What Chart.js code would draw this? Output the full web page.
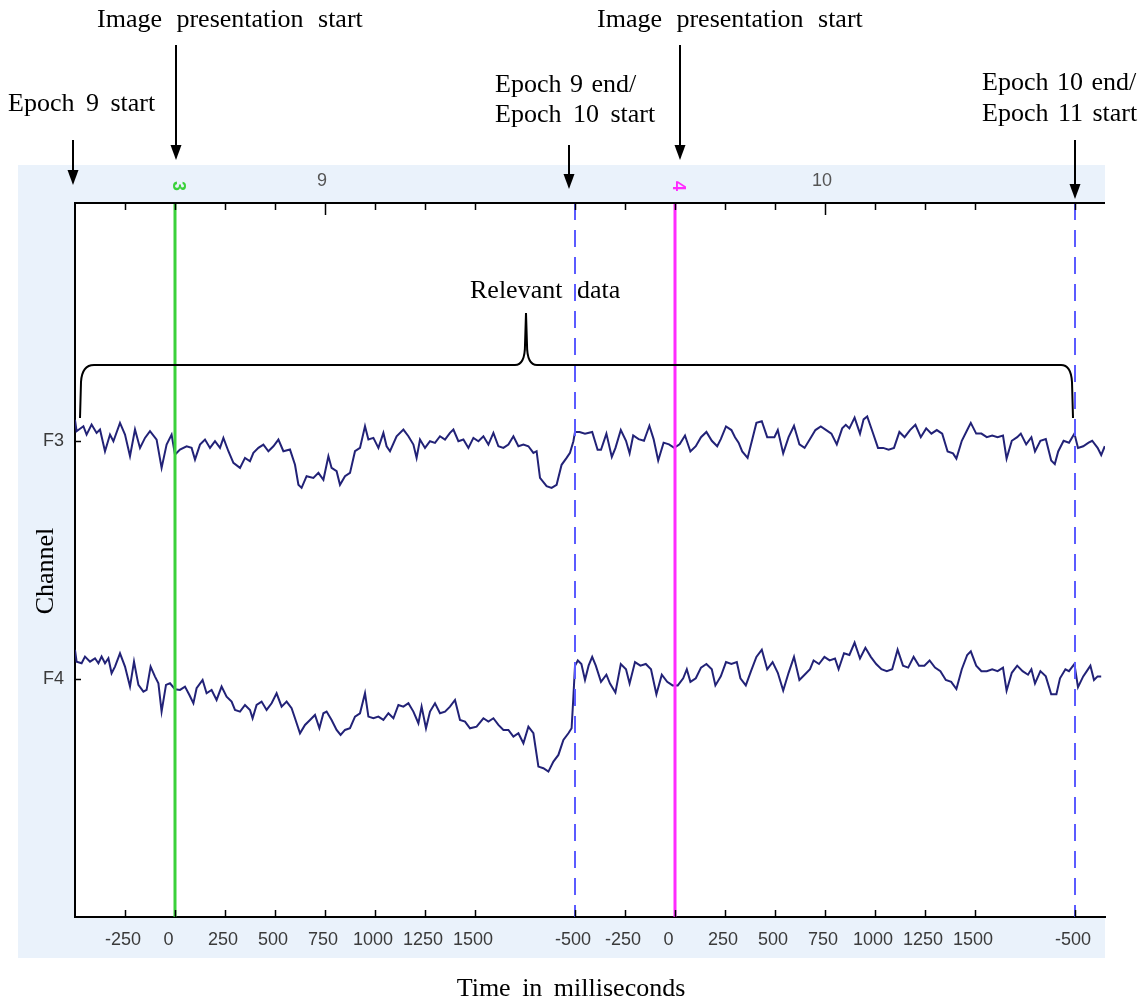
<!DOCTYPE html>
<html>
<head>
<meta charset="utf-8">
<script src="https://cdn.jsdelivr.net/npm/chart.js@4.4.1/dist/chart.umd.min.js"></script>
<style>
  html, body { margin: 0; padding: 0; background: #fff; }
  #wrap { width: 1148px; height: 1002px; }
</style>
</head>
<body>
<div id="wrap"><canvas id="eeg" width="1148" height="1002"></canvas></div>
<script>
// Samples are [time in ms from the start of epoch 9, amplitude in µV]; 100 µV = one channel row
const channels = ['F3', 'F4'];

const f3 = [
  [0, 8.9], [8, 4.1], [42, 6.2], [58, 2.7], [83, 6.9], [108, 3.4], [125, 4.8], [150, -4.3], [175, 2.7], [192, -0.1],
  [225, 7.6], [250, 2.7], [275, -6.4], [300, 4.8], [325, -2.9], [350, 1.3], [375, 4.1], [408, 0.6], [433, -11.3], [458, -1.5],
  [483, 2.7], [500, -5.7], [525, -3.6], [558, -2.2], [583, -2.9], [600, -7.8], [625, -1.5], [650, 0.6], [675, -2.9], [700, -0.1],
  [725, -2.9], [742, 1.3], [767, -4.3], [792, -9.2], [825, -11.3], [850, -7.1], [875, -8.5], [892, -5.0], [917, -2.9], [942, -1.5],
  [967, -4.3], [992, -2.2], [1017, 0.6], [1042, -4.3], [1075, -3.6], [1100, -10.0], [1117, -18.4], [1133, -19.7], [1158, -14.8], [1192, -15.5],
  [1217, -13.4], [1242, -16.3], [1267, -6.4], [1283, -11.3], [1308, -12.7], [1325, -18.4], [1350, -14.8], [1375, -13.4], [1400, -4.3], [1425, -2.9],
  [1450, 6.2], [1467, 0.6], [1492, 1.3], [1517, -2.9], [1542, 3.4], [1558, -2.2], [1575, -4.3], [1608, 2.0], [1642, 4.8], [1667, 2.0],
  [1692, -1.5], [1708, -7.1], [1725, 0.6], [1750, -2.9], [1775, -0.1], [1800, -0.8], [1825, 2.0], [1850, 0.6], [1875, 3.4], [1892, 4.8],
  [1917, -0.1], [1942, 0.6], [1967, -2.9], [1992, 1.3], [2017, -0.1], [2042, 2.0], [2067, -1.5], [2092, 3.4], [2117, -2.2], [2142, -2.9],
  [2167, -1.5], [2192, 2.0], [2217, -2.2], [2242, -1.5], [2267, -2.2], [2292, -5.0], [2308, -4.3], [2325, -15.5], [2358, -19.0], [2383, -19.7],
  [2408, -18.4], [2433, -10.0], [2458, -7.1], [2475, -5.0], [2492, -0.1],
  [2500, 3.8], [2523, 3.8], [2550, 3.1], [2586, 3.8], [2613, -3.7], [2630, -3.7], [2657, 3.1], [2684, -6.7], [2702, -3.0], [2729, 4.6],
  [2755, 0.1], [2773, -5.2], [2791, 2.3], [2818, 0.8], [2845, 0.1], [2872, 6.4], [2893, 0.8], [2916, -8.2], [2943, -0.7], [2970, -1.4],
  [2996, -2.9], [3023, -1.4], [3050, 2.3], [3077, -4.4], [3104, -2.2], [3130, 1.6], [3157, 3.8], [3184, 0.1], [3211, -2.2], [3229, 0.8],
  [3255, 6.1], [3282, 4.6], [3300, 1.6], [3318, -0.7], [3336, -4.4], [3363, -7.1], [3389, 1.6], [3407, 7.6], [3434, 8.3], [3461, 1.6],
  [3497, 1.6], [3514, 4.6], [3541, -5.2], [3568, 1.6], [3595, 6.4], [3622, -1.4], [3648, -2.9], [3675, 0.8], [3702, 4.6], [3729, 6.1],
  [3756, 4.6], [3782, 3.1], [3809, -1.4], [3836, 5.3], [3854, 6.8], [3872, 5.3], [3898, 9.8], [3925, 3.1], [3943, 9.1], [3961, 10.3],
  [3988, 3.8], [4015, -2.9], [4041, -2.9], [4068, -3.7], [4095, -2.9], [4122, 3.8], [4148, 1.6], [4175, 4.6], [4202, 6.8], [4229, 1.6],
  [4256, 5.3], [4282, 3.1], [4309, 4.6], [4336, 3.1], [4363, -4.4], [4390, -5.2], [4407, -7.4], [4434, 0.1], [4461, 4.6], [4479, 7.6],
  [4506, 3.1], [4532, 3.1], [4559, 1.6], [4586, 2.3], [4613, 1.6], [4640, 2.3], [4658, -7.4], [4684, 0.1], [4711, 1.6], [4729, 3.1],
  [4756, -1.4], [4782, 1.6], [4800, -4.4], [4827, 0.1], [4854, 0.8], [4881, -8.2], [4899, -9.7], [4916, -4.4], [4943, 0.1], [4970, -0.7],
  [4997, 3.1], [5015, -2.9], [5041, -2.2], [5068, -0.7], [5086, 0.1], [5113, -2.9], [5131, -5.9], [5149, -2.2]
];

const f4 = [
  [0, 12.2], [8, 7.3], [33, 6.6], [50, 9.4], [75, 7.3], [100, 8.7], [117, 6.6], [133, 9.4], [150, 6.6], [167, 8.7],
  [183, 2.4], [200, 5.2], [225, 10.8], [250, 5.2], [275, -3.2], [295, 7.3], [317, -2.5], [342, -5.3], [358, -4.6], [378, 5.2],
  [400, 1.0], [417, -1.8], [433, -13.7], [455, -2.5], [475, -1.8], [500, -4.3], [525, -4.6], [550, -3.2], [572, -6.7], [592, -10.2],
  [608, -3.9], [638, -0.4], [658, -6.0], [683, -4.6], [708, -8.8], [733, -3.2], [758, -7.4], [783, -9.5], [800, -13.0], [825, -13.7],
  [850, -10.9], [875, -13.0], [888, -16.5], [908, -10.9], [933, -9.5], [958, -13.0], [983, -10.2], [1008, -6.0], [1033, -11.6], [1058, -9.5],
  [1083, -12.3], [1100, -16.5], [1125, -22.8], [1150, -19.3], [1175, -17.2], [1200, -15.1], [1222, -20.7], [1242, -14.4], [1258, -13.7], [1283, -17.2],
  [1308, -21.4], [1328, -23.5], [1350, -21.4], [1375, -20.7], [1400, -15.8], [1425, -14.4], [1450, -6.0], [1467, -15.8], [1492, -16.5], [1517, -15.8],
  [1542, -17.2], [1567, -14.4], [1592, -16.5], [1617, -10.9], [1642, -11.6], [1667, -10.2], [1692, -13.7], [1717, -18.6], [1733, -11.6], [1755, -20.7],
  [1775, -13.7], [1800, -10.2], [1825, -14.4], [1850, -13.7], [1875, -11.6], [1900, -8.8], [1925, -17.2], [1950, -17.9], [1975, -20.7], [2008, -20.0],
  [2042, -16.5], [2067, -17.9], [2092, -16.5], [2117, -19.3], [2142, -21.4], [2167, -21.4], [2192, -24.2], [2217, -22.8], [2242, -27.0], [2267, -20.0],
  [2292, -22.8], [2317, -36.8], [2342, -37.5], [2367, -38.9], [2392, -34.7], [2417, -31.9], [2442, -25.6], [2467, -22.8], [2483, -20.7], [2492, -7.4],
  [2500, 5.6], [2514, 7.8], [2532, 6.3], [2550, -0.4], [2568, 5.6], [2586, 9.3], [2604, 5.6], [2630, -1.2], [2657, 1.8], [2675, -1.9],
  [2702, -5.7], [2729, 6.3], [2755, 4.1], [2773, -1.9], [2800, 7.1], [2827, 5.6], [2854, 6.3], [2880, 4.1], [2907, -6.4], [2934, 1.8],
  [2961, -1.2], [2988, -2.7], [3014, -2.7], [3041, 0.3], [3059, 4.1], [3077, -1.2], [3104, 0.3], [3130, 4.8], [3157, 6.3], [3184, 4.1],
  [3202, -2.7], [3229, 1.1], [3255, 7.1], [3282, 6.3], [3309, 7.1], [3327, 0.3], [3354, -2.7], [3380, 3.3], [3407, 9.3], [3434, 12.3],
  [3461, 4.1], [3488, 7.1], [3514, 2.6], [3541, -4.9], [3568, 2.6], [3595, 9.3], [3622, -0.4], [3648, 1.8], [3675, 4.1], [3693, 7.8],
  [3720, 6.3], [3747, 9.3], [3773, 7.8], [3800, 8.6], [3818, 4.1], [3845, 10.8], [3872, 10.1], [3898, 15.3], [3925, 8.6], [3952, 13.1],
  [3979, 9.3], [4006, 6.3], [4032, 4.1], [4059, 3.3], [4086, 4.1], [4113, 12.3], [4140, 5.6], [4166, 4.8], [4193, 9.3], [4220, 5.6],
  [4247, 5.6], [4273, 7.8], [4300, 4.8], [4327, 3.3], [4354, -0.4], [4381, -1.2], [4407, -4.2], [4434, 4.1], [4461, 10.1], [4479, 11.6],
  [4506, 5.6], [4532, 3.3], [4559, 3.3], [4586, 4.1], [4613, 3.3], [4640, 4.8], [4658, -4.9], [4684, 2.6], [4711, 5.6], [4738, 3.3],
  [4765, 1.8], [4782, 4.1], [4800, -1.9], [4827, 3.3], [4854, 1.1], [4881, -6.4], [4907, -6.4], [4925, 0.3], [4952, 4.1], [4970, 3.3],
  [4997, 6.3], [5015, -3.4], [5041, 1.1], [5059, 3.3], [5077, 5.6], [5095, -0.4], [5113, 1.1], [5131, 1.1]
];

const epochStarts = [0, 2500, 5000];
const epochNumbers = ['9', '10'];
const epochLength = 2500;
const preStimulus = 500;
const tickOffsets = [-250, 0, 250, 500, 750, 1000, 1250, 1500];
const stimTimes = [500, 3000];
const stimCodes = ['3', '4'];
const stimColors = ['#3ad13a', '#ff2bff'];
const boundaryTimes = [2500, 5000];
const viewEnd = 5150;
const rowScale = 100;

// tick positions: every epoch start plus the offsets around each stimulus
const tickTimes = [];
epochStarts.forEach(s => {
  if (s > 0) tickTimes.push(s);
  tickOffsets.forEach(o => {
    const t = s + preStimulus + o;
    if (t <= viewEnd) tickTimes.push(t);
  });
});
tickTimes.sort((a, b) => a - b);

function tickLabel(t) {
  const ms = (t % epochLength) - preStimulus;
  // the zero label sits a little left of its tick in the original
  return ms === 0 ? '0\u2002' : String(ms);
}

function toRow(samples, row) {
  return samples.map(([t, v]) => ({ x: t, y: row - v / rowScale }));
}

function vline(t) {
  return [{ x: t, y: 0 }, { x: t, y: 3 }];
}

const serif = '"Liberation Serif", "Times New Roman", serif';
const sans = '"Liberation Sans", Arial, sans-serif';

const panelPlugin = {
  id: 'panel',
  beforeDraw(chart) {
    const { ctx, chartArea: a } = chart;
    ctx.save();
    ctx.fillStyle = '#eaf2fb';
    ctx.fillRect(18, 165, a.right - 18, 958 - 165);
    ctx.fillStyle = '#ffffff';
    ctx.fillRect(a.left, a.top, a.right - a.left, a.bottom - a.top);
    ctx.restore();
  }
};

function arrow(ctx, x, y1, y2) {
  ctx.beginPath();
  ctx.moveTo(x, y1);
  ctx.lineTo(x, y2 - 10);
  ctx.stroke();
  ctx.beginPath();
  ctx.moveTo(x - 5.5, y2 - 15);
  ctx.lineTo(x + 5.5, y2 - 15);
  ctx.lineTo(x, y2);
  ctx.closePath();
  ctx.fill();
}

function text(ctx, s, x, y, spacing) {
  if ('wordSpacing' in ctx) ctx.wordSpacing = spacing + 'px';
  ctx.fillText(s, x, y);
}

const overlayPlugin = {
  id: 'overlay',
  afterDraw(chart) {
    const { ctx, chartArea: a } = chart;
    const xs = chart.scales.x;
    const ys = chart.scales.y;
    const px = t => xs.getPixelForValue(t);
    ctx.save();

    // top axis line
    ctx.strokeStyle = '#000';
    ctx.lineWidth = 2;
    ctx.beginPath();
    ctx.moveTo(a.left - 1, a.top);
    ctx.lineTo(a.right, a.top);
    ctx.stroke();

    // inward ticks, top and bottom
    ctx.lineWidth = 1.5;
    const centres = epochStarts.map(s => s + epochLength / 2);
    tickTimes.forEach(t => {
      const x = Math.round(px(t)) + 0.5;
      const long = centres.includes(t);
      ctx.beginPath();
      ctx.moveTo(x, a.top);
      ctx.lineTo(x, a.top + (long ? 12 : 7));
      ctx.moveTo(x, a.bottom);
      ctx.lineTo(x, a.bottom - 7);
      ctx.stroke();
    });
    // channel ticks
    [1, 2].forEach(r => {
      const y = Math.round(ys.getPixelForValue(r)) + 0.5;
      ctx.beginPath();
      ctx.moveTo(a.left, y);
      ctx.lineTo(a.left + 6, y);
      ctx.stroke();
    });

    // epoch numbers above the plot
    ctx.fillStyle = '#555';
    ctx.font = '18px ' + sans;
    ctx.textAlign = 'center';
    ctx.textBaseline = 'middle';
    epochNumbers.forEach((n, i) => {
      ctx.fillText(n, px(centres[i]) - 3, 181);
    });
    // event codes, rotated
    ctx.font = 'bold 18px ' + sans;
    stimTimes.forEach((t, i) => {
      ctx.save();
      ctx.translate(px(t) + 3, 186);
      ctx.rotate(Math.PI / 2);
      ctx.fillStyle = stimColors[i];
      ctx.fillText(stimCodes[i], 0, 0);
      ctx.restore();
    });

    // annotations
    ctx.fillStyle = '#000';
    ctx.strokeStyle = '#000';
    ctx.lineWidth = 2;
    ctx.font = '26px ' + serif;
    ctx.textAlign = 'left';
    ctx.textBaseline = 'alphabetic';
    text(ctx, 'Image presentation start', 97, 27, 8);
    text(ctx, 'Image presentation start', 597, 27, 8);
    text(ctx, 'Epoch 9 start', 8, 111, 5);
    text(ctx, 'Epoch 9 end/', 495, 92, 2);
    text(ctx, 'Epoch 10 start', 495, 122, 5);
    text(ctx, 'Epoch 10 end/', 982, 90, 2);
    text(ctx, 'Epoch 11 start', 982, 121, 3);
    text(ctx, 'Relevant data', 470, 298, 8);

    arrow(ctx, px(0) - 2, 140, 185);
    arrow(ctx, px(stimTimes[0]) + 1, 45, 160);
    arrow(ctx, px(boundaryTimes[0]) - 6, 145, 189);
    arrow(ctx, px(stimTimes[1]) + 5, 45, 160);
    arrow(ctx, px(boundaryTimes[1]), 140, 199);

    // brace over the relevant data
    const bl = px(0) + 5;
    const br = px(boundaryTimes[1]) - 2;
    const bc = px(2250) + 1;
    const by = 365;
    ctx.beginPath();
    ctx.moveTo(bl, 418);
    ctx.lineTo(bl + 1, 382);
    ctx.quadraticCurveTo(bl + 2, by, bl + 14, by);
    ctx.lineTo(bc - 11, by);
    ctx.quadraticCurveTo(bc - 1, by, bc - 1, by - 20);
    ctx.lineTo(bc, by - 52);
    ctx.lineTo(bc + 1, by - 20);
    ctx.quadraticCurveTo(bc + 1, by, bc + 11, by);
    ctx.lineTo(br - 12, by);
    ctx.quadraticCurveTo(br - 2, by, br - 1, 382);
    ctx.lineTo(br, 418);
    ctx.stroke();

    // axis titles
    ctx.textAlign = 'center';
    text(ctx, 'Time in milliseconds', 571, 996, 5);
    ctx.save();
    ctx.translate(53, 571);
    ctx.rotate(-Math.PI / 2);
    text(ctx, 'Channel', 0, 0, 0);
    ctx.restore();

    ctx.restore();
  }
};

const traceStyle = { borderColor: '#222277', borderWidth: 2, pointRadius: 0, tension: 0, order: 2 };

new Chart(document.getElementById('eeg'), {
  type: 'line',
  data: {
    datasets: [
      { label: channels[0], data: toRow(f3, 1), ...traceStyle },
      { label: channels[1], data: toRow(f4, 2), ...traceStyle },
      { label: 'stim ' + stimCodes[0], data: vline(stimTimes[0]), borderColor: stimColors[0], borderWidth: 3, pointRadius: 0, order: 1 },
      { label: 'stim ' + stimCodes[1], data: vline(stimTimes[1]), borderColor: stimColors[1], borderWidth: 3, pointRadius: 0, order: 1 },
      ...boundaryTimes.map(t => ({
        label: 'boundary', data: vline(t), borderColor: '#5b5bff', borderWidth: 2,
        borderDash: [17, 10], pointRadius: 0, order: 1
      }))
    ]
  },
  options: {
    responsive: false,
    animation: false,
    events: [],
    layout: { padding: { left: 18, right: 43, top: 203, bottom: 44 } },
    plugins: { legend: { display: false }, tooltip: { enabled: false } },
    scales: {
      x: {
        type: 'linear',
        position: 'bottom',
        min: 0,
        max: viewEnd,
        afterBuildTicks: s => { s.ticks = tickTimes.map(v => ({ value: v })); },
        afterFit: s => { s.height = 41; },
        grid: { drawOnChartArea: false, drawTicks: false },
        border: { color: '#000', width: 2 },
        ticks: {
          autoSkip: false, maxRotation: 0, padding: 12, labelOffset: -2,
          color: '#3a3a3a', font: { family: sans, size: 18 },
          callback: v => tickLabel(v)
        }
      },
      y: {
        type: 'linear',
        min: 0,
        max: 3,
        reverse: true,
        afterBuildTicks: s => { s.ticks = [{ value: 1 }, { value: 2 }]; },
        afterFit: s => { s.width = 57; },
        grid: { drawOnChartArea: false, drawTicks: false },
        border: { color: '#000', width: 2 },
        ticks: {
          padding: 11, color: '#3a3a3a', font: { family: sans, size: 18 },
          callback: v => channels[v - 1]
        }
      }
    }
  },
  plugins: [panelPlugin, overlayPlugin]
});
</script>
</body>
</html>
